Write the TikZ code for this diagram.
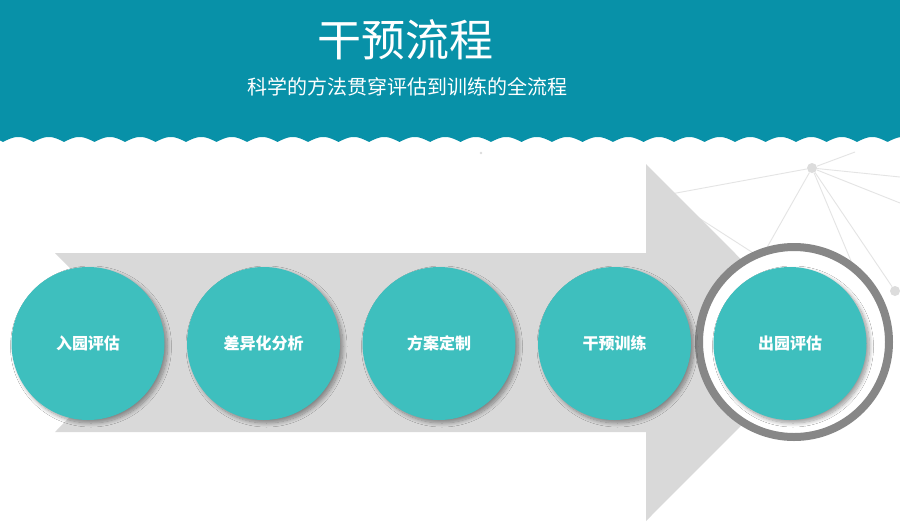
\documentclass[tikz,border=0pt]{standalone}
\usepackage{fontspec}
\newfontfamily\cjk{Noto Sans CJK SC}
\usetikzlibrary{shadows,shadows.blur}
\definecolor{banner}{RGB}{8,145,168}
\definecolor{tealc}{RGB}{62,191,190}
\definecolor{arrowgray}{RGB}{217,217,217}
\definecolor{ringgray}{RGB}{135,135,135}
\definecolor{netline}{RGB}{228,228,228}
\definecolor{netdot}{RGB}{220,220,220}
\newcommand{\lowered}[1]{\raisebox{-2pt}{#1}}
\tikzset{
  stepcircle/.style={circle, minimum size=153pt, inner sep=0pt, fill=tealc, text=white,
    font=\cjk\bfseries\fontsize{16}{19}\selectfont,
    blur shadow={shadow xshift=3pt, shadow yshift=-3pt, shadow blur steps=10, shadow opacity=40, shadow blur radius=4pt}},
  ringnode/.style={circle, minimum size=190pt, inner sep=0pt, fill=white, draw=ringgray, line width=8pt},
  netnode/.style={circle, fill=netdot, minimum size=10pt, inner sep=0pt},
  netedge/.style={draw=netline, line width=0.9pt},
}
\begin{document}
\begin{tikzpicture}[x=1pt,y=-1pt]
\useasboundingbox (0,0) rectangle (900,531);
\fill[white] (0,0) rectangle (900,531);
% banner with wavy bottom
\fill[banner] (0,0) -- (900,0) -- (900,142)
  -- plot[domain=900:0, samples=900] (\x, {142-5*abs(sin((\x-3)/30.5*180))}) -- cycle;
\node[font=\cjk\fontsize{44}{50}\selectfont, text=white] (title) at (405,40) {干预流程};
\node[font=\cjk\fontsize{20}{24}\selectfont, text=white] (subtitle) at (407,87) {科学的方法贯穿评估到训练的全流程};
% tiny dot
\fill[netdot] (481,153) circle[radius=1.3pt];
% network
\node[netnode] (na) at (812,168) {};
\node[netnode] (nb) at (761,258) {};
\node[netnode] (nc) at (895,291) {};
\coordinate (e1) at (855,152);
\coordinate (e2) at (660,196);
\coordinate (e3) at (900,177);
\coordinate (e4) at (900,203);
\coordinate (e5) at (880,330);
\coordinate (e6) at (688,211);
\draw[netedge] (na) -- (e1);
\draw[netedge] (na) -- (e2);
\draw[netedge] (na) -- (e3);
\draw[netedge] (na) -- (e4);
\draw[netedge] (na) -- (nb);
\draw[netedge] (na) -- (nc);
\draw[netedge] (na) -- (e5);
\draw[netedge] (nb) -- (e6);
% big arrow
\fill[arrowgray] (55,253) -- (646,253) -- (646,164) -- (824,342.5) -- (646,521) -- (646,432) -- (55,432) -- (144,342.5) -- cycle;
% ring
\node[ringnode] (ring) at (794,342) {};
% circles
\node[stepcircle] (s1) at (88,343.5) {\lowered{入园评估}};
\node[stepcircle] (s2) at (263.5,343.5) {\lowered{差异化分析}};
\node[stepcircle] (s3) at (439,343.5) {\lowered{方案定制}};
\node[stepcircle] (s4) at (614.5,343.5) {\lowered{干预训练}};
\node[stepcircle] (s5) at (790,343.5) {\lowered{出园评估}};
\end{tikzpicture}
\end{document}
